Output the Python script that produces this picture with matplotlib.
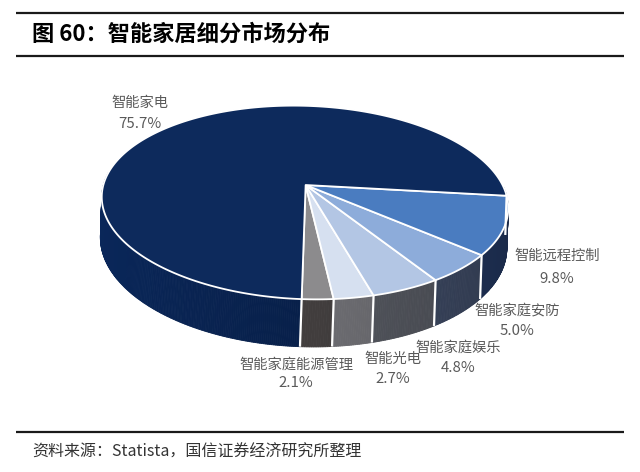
import numpy as np
import matplotlib
matplotlib.use("Agg")
import matplotlib.pyplot as plt
from matplotlib.patches import Polygon
from matplotlib.colors import to_rgb

plt.rcParams['font.family'] = ['Noto Sans CJK SC', 'DejaVu Sans']

# ---- data ----
categories = ["智能家庭能源管理", "智能光电", "智能家庭娱乐", "智能家庭安防", "智能远程控制", "智能家电"]
values = [2.1, 2.7, 4.8, 5.0, 9.8, 75.7]
top_colors = ["#8c8b8d", "#d6e0f0", "#b3c6e4", "#8dacda", "#4a7cc0", "#0d2a5c"]
side_colors = ["#423e3e", "#6e6e73", "#53565e", "#3c4862", "#22365e", "#08204a"]
label_pos = [(296, 365, 383), (393, 359, 379), (458, 348, 368), (517, 311, 331), (557, 256, 279), (140, 103, 124)]

title = "图 60：智能家居细分市场分布"
source = "资料来源：Statista，国信证券经济研究所整理"

W, H = 640, 472
fig = plt.figure(figsize=(W / 100, H / 100), dpi=100)
ax = fig.add_axes([0, 0, 1, 1])
ax.set_xlim(0, W)
ax.set_ylim(H, 0)
ax.axis("off")

# ---- pie geometry (pseudo-perspective, slight tilt) ----
cx, cy = 305, 185
a, b, k = 200, 93.5, 0.181
D = 39.0
rot = np.deg2rad(2.0)
rx, ry = 305, 203


def proj(theta, depth=0.0):
    u, w = np.cos(theta), np.sin(theta)
    s = 1.0 / (1.0 + k * w)
    x, y = cx + a * u * s, cy - b * w * s + depth * s
    dx, dy = x - rx, y - ry
    return (rx + dx * np.cos(rot) - dy * np.sin(rot),
            ry + dx * np.sin(rot) + dy * np.cos(rot))


def center():
    dx, dy = cx - rx, cy - ry
    return (rx + dx * np.cos(rot) - dy * np.sin(rot),
            ry + dx * np.sin(rot) + dy * np.cos(rot))


total = sum(values)
start = -np.pi / 2
angles = []
for v in values:
    span = 2 * np.pi * v / total
    angles.append((start, start + span))
    start += span

# side walls (front half only)
for (t0, t1), sc in zip(angles, side_colors):
    ts = np.linspace(t0, t1, max(4, int((t1 - t0) * 120)))
    base = np.array(to_rgb(sc))
    for i in range(len(ts) - 1):
        tm = 0.5 * (ts[i] + ts[i + 1])
        if np.sin(tm) > 0.06:
            continue
        x0, y0 = proj(ts[i]); x1, y1 = proj(ts[i + 1])
        x2, y2 = proj(ts[i + 1], D); x3, y3 = proj(ts[i], D)
        shade = 1.0 - 0.22 * np.cos(tm)
        col = np.clip(base * shade, 0, 1)
        ax.add_patch(Polygon([(x0, y0), (x1, y1), (x2, y2), (x3, y3)],
                             closed=True, facecolor=col, edgecolor=col, lw=0.6))

# white separators on the side
for (t0, t1) in angles:
    if np.sin(t0) < 0:
        xa, ya = proj(t0); xb, yb = proj(t0, D)
        ax.plot([xa, xb], [ya, yb], color="white", lw=1.6, solid_capstyle="butt")

# top faces
for (t0, t1), tc in zip(angles, top_colors):
    ts = np.linspace(t0, t1, max(6, int((t1 - t0) * 80)))
    pts = [center()] + [proj(t) for t in ts]
    ax.add_patch(Polygon(pts, closed=True, facecolor=tc, edgecolor="white",
                         lw=1.3, joinstyle="round"))

# ---- labels ----
for cat, v, (lx, ly1, ly2) in zip(categories, values, label_pos):
    ax.text(lx, ly1, cat, ha="center", va="center", fontsize=10.3, color="#5a5a5a")
    ax.text(lx, ly2, f"{v:.1f}%", ha="center", va="center", fontsize=10.8, color="#5a5a5a")

# ---- header / footer ----
for yy in (13, 56, 432):
    ax.plot([16, 624], [yy, yy], color="#1a1a1a", lw=1.6, solid_capstyle="butt")
ax.text(32, 34, title, ha="left", va="center", fontsize=16, fontweight="bold", color="black")
ax.text(32, 452, source, ha="left", va="center", fontsize=11.5, color="#333333")

fig.savefig("out.png", dpi=100)
